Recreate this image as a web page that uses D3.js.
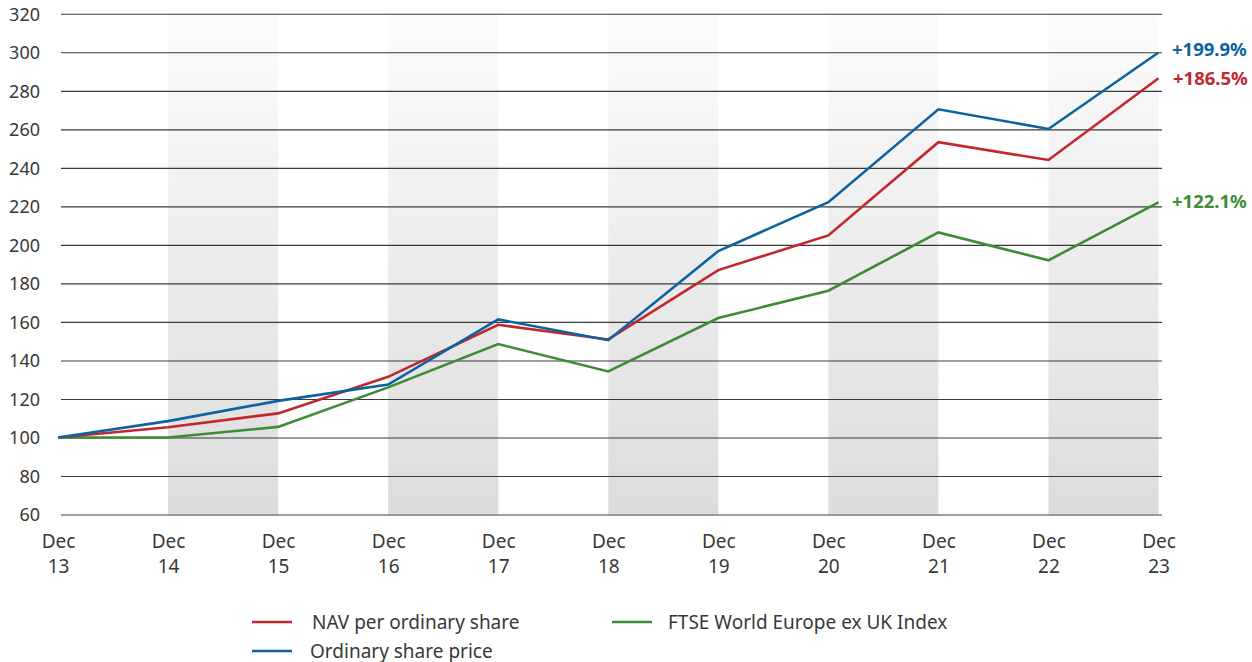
<!DOCTYPE html>
<html>
<head>
    <meta charset="utf-8">
    <title>performance_chart</title>
    <script src="https://d3js.org/d3.v7.min.js"></script>
    <style>
        body { margin: 0; background: #fff; }
        text { font-family: "Noto Sans", sans-serif; fill: #333; }
    </style>
</head>
<body>
    <svg width="1252" height="662"></svg>
    <script>
        // Values (rebased to 100 at Dec 13)
        var years = ["13", "14", "15", "16", "17", "18", "19", "20", "21", "22", "23"];
        var navValues = [100, 105.3, 112.5, 131.5, 158.5, 150.9, 186.9, 204.9, 253.3, 244.1, 286.5];
        var priceValues = [100, 108.5, 119, 127.5, 161.3, 150.5, 196.8, 222.2, 270.4, 260.2, 299.9];
        var indexValues = [100, 100, 105.5, 126, 148.5, 134.3, 162, 176.2, 206.5, 192, 222.1];
        var yTicks = [60, 80, 100, 120, 140, 160, 180, 200, 220, 240, 260, 280, 300, 320];
        var endLabels = ["+186.5%", "+199.9%", "+122.1%"];
        var seriesNames = ["NAV per ordinary share", "Ordinary share price", "FTSE World Europe ex UK Index"];

        var colors = ["#c1272d", "#0b64a0", "#3d8b37"];
        var series = [navValues, priceValues, indexValues];

        var svg = d3.select("svg");

        var x = d3.scaleLinear().domain([0, years.length - 1]).range([58, 1158.5]);
        var y = d3.scaleLinear().domain([60, 320]).range([514.5, 13.8]);
        var step = x(1) - x(0);

        // gradient for the shaded year bands
        var grad = svg.append("defs").append("linearGradient")
            .attr("id", "bandGrad")
            .attr("x1", 0).attr("y1", 0).attr("x2", 0).attr("y2", 1);
        grad.append("stop").attr("offset", "0%").attr("stop-color", "#fcfcfc");
        grad.append("stop").attr("offset", "100%").attr("stop-color", "#dcdcdc");

        // shaded bands: Dec14-15, Dec16-17, ...
        var bandStarts = d3.range(1, years.length - 1, 2);
        svg.selectAll("rect.band")
            .data(bandStarts)
            .enter()
            .append("rect")
            .attr("class", "band")
            .attr("x", function(d) { return x(d); })
            .attr("y", y(320))
            .attr("width", step)
            .attr("height", y(60) - y(320))
            .attr("fill", "url(#bandGrad)");

        // y axis gridlines and labels
        var yAxis = d3.axisLeft(y)
            .tickValues(yTicks)
            .tickSize(-(1162 - 61))
            .tickPadding(22);
        var gy = svg.append("g")
            .attr("transform", "translate(61,0)")
            .call(yAxis);
        gy.select(".domain").remove();
        gy.selectAll(".tick line")
            .attr("stroke", "#3a3a3a")
            .attr("stroke-width", 1.1);
        gy.selectAll(".tick text")
            .attr("x", -21)
            .attr("dy", "0.36em")
            .style("font-size", "18px")
            .style("fill", "#383838");

        // x axis labels (two lines: Dec / year)
        var xAxis = d3.axisBottom(x)
            .tickValues(d3.range(years.length))
            .tickSize(0)
            .tickFormat("");
        var gx = svg.append("g")
            .attr("transform", "translate(0," + y(60) + ")")
            .call(xAxis);
        gx.select(".domain").remove();
        gx.selectAll(".tick").each(function(d) {
            var t = d3.select(this).append("text")
                .attr("text-anchor", "middle")
                .style("font-size", "19px")
                .style("fill", "#383838");
            t.append("tspan").attr("x", 0).attr("y", 33).text("Dec");
            t.append("tspan").attr("x", 0).attr("y", 58).text(years[d]);
        });

        // lines
        var line = d3.line()
            .x(function(d, i) { return x(i); })
            .y(function(d) { return y(d); });

        // draw index first, then NAV, then share price on top
        [2, 0, 1].forEach(function(k) {
            svg.append("path")
                .datum(series[k])
                .attr("d", line)
                .attr("fill", "none")
                .attr("stroke", colors[k])
                .attr("stroke-width", 2.6)
                .attr("stroke-linejoin", "miter");
        });

        // end labels
        var labelOffsets = [6.5, 3, 6];
        series.forEach(function(s, k) {
            var last = s[s.length - 1];
            svg.append("text")
                .attr("x", k === 0 ? 1173 : 1172)
                .attr("y", y(last) + labelOffsets[k])
                .style("font-size", "18.5px")
                .style("font-weight", "bold")
                .style("fill", colors[k])
                .text(endLabels[k]);
        });

        // legend
        var legendPos = [
            { lx: 252, ly: 622, tx: 312 },
            { lx: 252, ly: 651, tx: 310 },
            { lx: 612, ly: 622, tx: 668 }
        ];
        seriesNames.forEach(function(name, k) {
            var p = legendPos[k];
            svg.append("line")
                .attr("x1", p.lx).attr("x2", p.lx + 40)
                .attr("y1", p.ly).attr("y2", p.ly)
                .attr("stroke", colors[k])
                .attr("stroke-width", 2.6);
            svg.append("text")
                .attr("x", p.tx)
                .attr("y", p.ly + 6.5)
                .style("font-size", "19px")
                .style("fill", "#383838")
                .text(name);
        });
    </script>
</body>
</html>
